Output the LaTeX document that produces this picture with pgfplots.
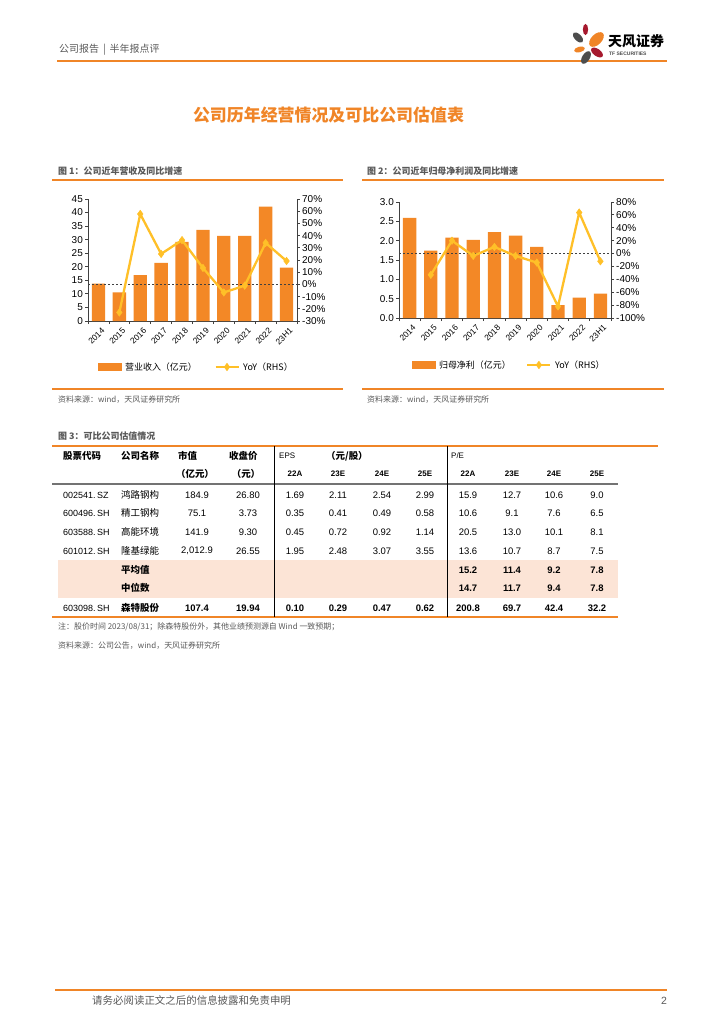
\documentclass[border=0pt]{standalone}
\usepackage{fontspec}
\setmainfont{Liberation Sans}
\newfontfamily\cjk{Noto Sans CJK SC}
\usepackage{pgfplots}
\pgfplotsset{compat=1.18}

\definecolor{barorange}{RGB}{243,136,38}
\definecolor{lineyellow}{RGB}{255,192,40}
\definecolor{tforange}{RGB}{240,133,39}
\definecolor{rowshade}{RGB}{252,228,214}
\definecolor{txtgray}{RGB}{89,89,89}
\definecolor{axgray}{RGB}{64,64,64}
\definecolor{tfred}{RGB}{166,25,46}
\definecolor{tfdark}{RGB}{77,77,77}

\newcommand\fs[1]{\fontsize{#1}{#1}\selectfont}

% one table row of numbers: y, first column index, font, values
\newcommand\numrow[4]{%
  \foreach \v [count=\i from #2] in {#4} {%
    \pgfmathsetmacro\cx{{197,248,295,338,382,425,468,512,554,597}[\i]}%
    \node[font=#3] at (\cx,#1) {\v};}}

\pgfplotsset{
  twin/.style={scale only axis, anchor=south west, xmin=-0.5, xmax=9.5,
    axis line style={draw=axgray, line width=0.8bp},
    tick style={draw=axgray, line width=0.8bp},
    tick align=outside, major tick length=3bp, minor tick length=3bp,
    yticklabel style={font=\fs{10}, inner sep=2bp}},
  years/.style={xtick={0,...,9},
    xticklabels={2014,2015,2016,2017,2018,2019,2020,2021,2022,23H1},
    major x tick style={draw=none}, minor xtick={-0.5,0.5,...,9.5},
    xticklabel shift=3bp,
    xticklabel style={xshift=2.5bp, rotate=45, anchor=north east, font=\fs{8.4}, inner sep=0pt}},
  yoy/.style={color=lineyellow, line width=2.3bp, mark=diamond*, mark size=3.8bp,
    mark options={solid, fill=lineyellow, draw=lineyellow, line width=0.4bp},
    legend image code/.code={\draw[mark repeat=2,mark phase=2] plot coordinates {(0bp,0bp) (11.5bp,0bp) (23bp,0bp)};}},
  zeroline/.style={forget plot, draw=axgray, line width=0.9bp, dash pattern=on 2.2bp off 1.8bp},
  barimg/.style={legend image code/.code={\fill[barorange] (0bp,-3.5bp) rectangle (23bp,3.5bp);}},
  leg/.style={legend style={draw=none, fill=none, anchor=west,
    legend columns=2, font=\cjk\fs{9}, inner sep=0pt,
    nodes={inner sep=0.5bp},
    /tikz/every odd column/.append style={column sep=3bp},
    /tikz/every even column/.append style={column sep=#1}}},
}

\begin{document}
\begin{tikzpicture}
\useasboundingbox[fill=white] (0,0) rectangle (724bp,-1024bp);
\begin{scope}[x=1bp, y=-1bp, every node/.style={inner sep=0pt}]
  % page header
  \node[anchor=west, font=\cjk\fs{10}, text=txtgray] at (59,50) {公司报告\hspace{4bp}|\hspace{4bp}半年报点评};
  \draw[tforange, line width=2bp] (57,61) -- (667,61);
  % logo
  \fill[tfred] (585.5,29.5) ellipse [x radius=2.6, y radius=5.6];
  \fill[tfdark, rotate around={-45:(578,37.5)}] (578,37.5) ellipse [x radius=6.5, y radius=3.4];
  \fill[tforange, rotate around={45:(596.5,39.5)}] (596.5,39.5) ellipse [x radius=9, y radius=5.2];
  \fill[tforange, rotate around={15:(579.5,49.5)}] (579.5,49.5) ellipse [x radius=5.5, y radius=2.8];
  \fill[tfred, rotate around={-35:(597,52.5)}] (597,52.5) ellipse [x radius=6.8, y radius=3.6];
  \fill[tfdark, rotate around={58:(586,57.5)}] (586,57.5) ellipse [x radius=7, y radius=3.8];
  \node[anchor=west, font=\cjk\fs{14}\bfseries] at (608,41) {天风证券};
  \node[anchor=west, font=\fs{5}\bfseries, text=tfdark] at (609,53.5) {TF SECURITIES};
  % page title
  \node[font=\cjk\fs{17}\bfseries, text=tforange] at (328.5,115) {公司历年经营情况及可比公司估值表};
  % figure titles and rules
  \node[anchor=west, font=\cjk\fs{9}\bfseries, text=txtgray] at (58,171) {图 1：公司近年营收及同比增速};
  \node[anchor=west, font=\cjk\fs{9}\bfseries, text=txtgray] at (367,171) {图 2：公司近年归母净利润及同比增速};
  \draw[tforange, line width=1.2bp] (52,180) -- (343,180);
  \draw[tforange, line width=1.2bp] (362,180) -- (664,180);
  \draw[tforange, line width=1.2bp] (52,389) -- (343,389);
  \draw[tforange, line width=1.2bp] (362,389) -- (664,389);
  \node[anchor=west, font=\cjk\fs{8}, text=txtgray] at (58,400) {资料来源：wind，天风证券研究所};
  \node[anchor=west, font=\cjk\fs{8}, text=txtgray] at (367,400) {资料来源：wind，天风证券研究所};
  % table
  \node[anchor=west, font=\cjk\fs{9}\bfseries, text=txtgray] at (58,436) {图 3：可比公司估值情况};
  \fill[rowshade] (58,560) rectangle (618,598);
  \draw[tforange, line width=1.2bp] (52,446) -- (658,446);
  \draw[black!55, line width=1.5bp] (52,484) -- (618,484);
  \draw[tforange, line width=1.2bp] (52,617) -- (618,617);
  \draw[black, line width=0.8bp] (274,446) -- (274,617);
  \draw[black, line width=0.8bp] (447,446) -- (447,617);
  \begin{scope}[every node/.append style={font=\cjk\fs{9.5}\bfseries}]
    \node[anchor=west] at (63,456) {股票代码};
    \node[anchor=west] at (121,456) {公司名称};
    \node[anchor=west] at (178,456) {市值};
    \node[anchor=west] at (229,456) {收盘价};
    \node[anchor=west] at (326,456) {（元/股）};
    \node at (195,474) {（亿元）};
    \node at (246,474) {（元）};
  \end{scope}
  \node[anchor=west, font=\fs{8}] at (279,456) {EPS};
  \node[anchor=west, font=\fs{8}] at (451,456) {P/E};
  \numrow{474}{2}{\fs{8}\bfseries}{22A,23E,24E,25E,22A,23E,24E,25E}
  \begin{scope}[every node/.append style={font=\fs{9}}]
    \node[anchor=west] at (63,495) {002541.\,SZ};
    \node[anchor=west] at (63,513) {600496.\,SH};
    \node[anchor=west] at (63,532) {603588.\,SH};
    \node[anchor=west] at (63,551) {601012.\,SH};
    \node[anchor=west] at (63,608) {603098.\,SH};
  \end{scope}
  \begin{scope}[every node/.append style={font=\cjk\fs{9.5}}]
    \node[anchor=west] at (121,495) {鸿路钢构};
    \node[anchor=west] at (121,513) {精工钢构};
    \node[anchor=west] at (121,532) {高能环境};
    \node[anchor=west] at (121,551) {隆基绿能};
  \end{scope}
  \begin{scope}[every node/.append style={font=\cjk\fs{9.5}\bfseries}]
    \node[anchor=west] at (121,570) {平均值};
    \node[anchor=west] at (121,588) {中位数};
    \node[anchor=west] at (121,608) {森特股份};
  \end{scope}
  \numrow{495}{0}{\fs{9.5}}{184.9,26.80,1.69,2.11,2.54,2.99,15.9,12.7,10.6,9.0}
  \numrow{513}{0}{\fs{9.5}}{75.1,3.73,0.35,0.41,0.49,0.58,10.6,9.1,7.6,6.5}
  \numrow{532}{0}{\fs{9.5}}{141.9,9.30,0.45,0.72,0.92,1.14,20.5,13.0,10.1,8.1}
  \numrow{551}{0}{\fs{9.5}}{{2,012.9},26.55,1.95,2.48,3.07,3.55,13.6,10.7,8.7,7.5}
  \numrow{570}{6}{\fs{9.5}\bfseries}{15.2,11.4,9.2,7.8}
  \numrow{588}{6}{\fs{9.5}\bfseries}{14.7,11.7,9.4,7.8}
  \numrow{608}{0}{\fs{9.5}\bfseries}{107.4,19.94,0.10,0.29,0.47,0.62,200.8,69.7,42.4,32.2}
  % notes
  \node[anchor=west, font=\cjk\fs{8}, text=txtgray] at (58,627) {注：股价时间 2023/08/31；除森特股份外，其他业绩预测源自 Wind 一致预期；};
  \node[anchor=west, font=\cjk\fs{8}, text=txtgray] at (58,646) {资料来源：公司公告，wind，天风证券研究所};
  % footer
  \draw[tforange, line width=2bp] (55,990) -- (667,990);
  \node[anchor=west, font=\cjk\fs{10.5}, text=txtgray] at (92,1001) {请务必阅读正文之后的信息披露和免责申明};
  \node[font=\fs{10.5}, text=txtgray] at (664,1001) {2};
\end{scope}

% ---- figure 1 ----
\begin{axis}[twin, years, at={(88bp,-321bp)}, width=209bp, height=122bp,
  ymin=0, ymax=45, axis x line*=bottom, axis y line*=left,
  ytick={0,5,...,45}, yticklabels={0,5,10,15,20,25,30,35,40,45}]
\addplot[ybar, bar width=13.3bp, fill=barorange, draw=none] coordinates {
  (0,13.8) (1,10.6) (2,16.9) (3,21.4) (4,29.2) (5,33.6) (6,31.4) (7,31.4) (8,42.2) (9,19.7)};
\end{axis}
\begin{axis}[twin, at={(88bp,-321bp)}, width=209bp, height=122bp,
  ymin=-30, ymax=70, axis x line=none, axis y line*=right,
  ytick={-30,-20,...,70},
  yticklabels={-30\%,-20\%,-10\%,0\%,10\%,20\%,30\%,40\%,50\%,60\%,70\%},
  leg=17bp, legend style={at={(0.048,-0.377)}}]
\addplot[zeroline] coordinates {(-0.5,0) (9.5,0)};
\addlegendimage{barimg}
\addlegendentry{营业收入（亿元）}
\addplot[yoy] coordinates {
  (1,-23) (2,57.7) (3,25) (4,36.3) (5,13.5) (6,-6.6) (7,-1) (8,34) (9,19.2)};
\addlegendentry{YoY（RHS）}
\end{axis}

% ---- figure 2 ----
\begin{axis}[twin, years, at={(399bp,-318bp)}, width=212bp, height=116bp,
  ymin=0, ymax=3, axis x line*=bottom, axis y line*=left,
  ytick={0,0.5,...,3}, yticklabels={0.0,0.5,1.0,1.5,2.0,2.5,3.0}]
\addplot[ybar, bar width=13.3bp, fill=barorange, draw=none] coordinates {
  (0,2.59) (1,1.74) (2,2.08) (3,2.02) (4,2.22) (5,2.13) (6,1.84) (7,0.33) (8,0.53) (9,0.63)};
\end{axis}
\begin{axis}[twin, at={(399bp,-318bp)}, width=212bp, height=116bp,
  ymin=-100, ymax=80, axis x line=none, axis y line*=right,
  ytick={-100,-80,...,80},
  yticklabels={-100\%,-80\%,-60\%,-40\%,-20\%,0\%,20\%,40\%,60\%,80\%},
  leg=15bp, legend style={at={(0.061,-0.405)}}]
\addplot[zeroline] coordinates {(-0.5,0) (9.5,0)};
\addlegendimage{barimg}
\addlegendentry{归母净利（亿元）}
\addplot[yoy] coordinates {
  (1,-33) (2,20) (3,-3.6) (4,10.3) (5,-3.6) (6,-14) (7,-82) (8,63.6) (9,-12)};
\addlegendentry{YoY（RHS）}
\end{axis}
\end{tikzpicture}
\end{document}
